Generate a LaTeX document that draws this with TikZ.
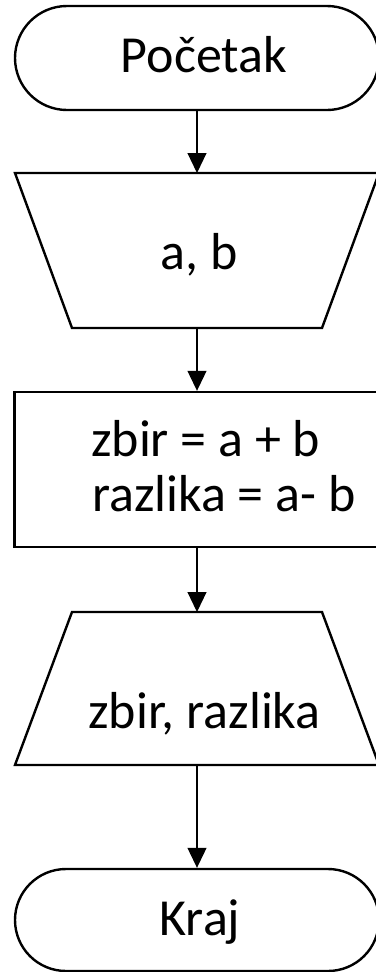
\documentclass[tikz,border=0pt]{standalone}
\usepackage{fontspec}
\setmainfont{Carlito}
\usetikzlibrary{shapes.misc,arrows.meta}
\begin{document}
\begin{tikzpicture}[x=1pt,y=-1pt,
  shapebox/.style={draw=black, line width=2.4pt, inner sep=0pt},
  lbl/.style={font=\fontsize{52}{62}\selectfont, anchor=base, inner sep=0pt},
  flow/.style={draw=black, line width=1.1pt, -{Triangle[width=19pt,length=20pt]}}]
\useasboundingbox (0,0) rectangle (375,972);
% terminals and process box
\node[shapebox, rounded rectangle, minimum width=364pt, minimum height=104pt] (start) at (197,58) {};
\node[shapebox, rectangle, minimum width=365pt, minimum height=155pt] (proc) at (197,469.5) {};
\node[shapebox, rounded rectangle, minimum width=364pt, minimum height=102pt] (stop) at (197,920) {};
% input trapezoid (wide at top)
\coordinate (inTL) at (15,173);
\coordinate (inTR) at (379,173);
\coordinate (inBR) at (322,328);
\coordinate (inBL) at (72,328);
\coordinate (inN) at (197,173);
\coordinate (inS) at (197,328);
\draw[shapebox] (inTL) -- (inTR) -- (inBR) -- (inBL) -- cycle;
% output trapezoid (wide at bottom)
\coordinate (outTL) at (72,612);
\coordinate (outTR) at (322,612);
\coordinate (outBR) at (379,765);
\coordinate (outBL) at (15,765);
\coordinate (outN) at (197,612);
\coordinate (outS) at (197,765);
\draw[shapebox] (outTL) -- (outTR) -- (outBR) -- (outBL) -- cycle;
% texts
\node[lbl] (tStart) at (204,72) {Početak};
\node[lbl] (tIn) at (199,269) {a, b};
\node[lbl, anchor=base west] (tProcA) at (91,456) {zbir = a + b};
\node[lbl, anchor=base west] (tProcB) at (92,511) {razlika = a- b};
\node[lbl] (tOut) at (204.5,728) {zbir, razlika};
\node[lbl] (tStop) at (200,935) {Kraj};
% connectors
\draw[flow] (start.south) -- (inN);
\draw[flow] (inS) -- (proc.north);
\draw[flow] (proc.south) -- (outN);
\draw[flow] (outS) -- (stop.north);
\end{tikzpicture}
\end{document}
